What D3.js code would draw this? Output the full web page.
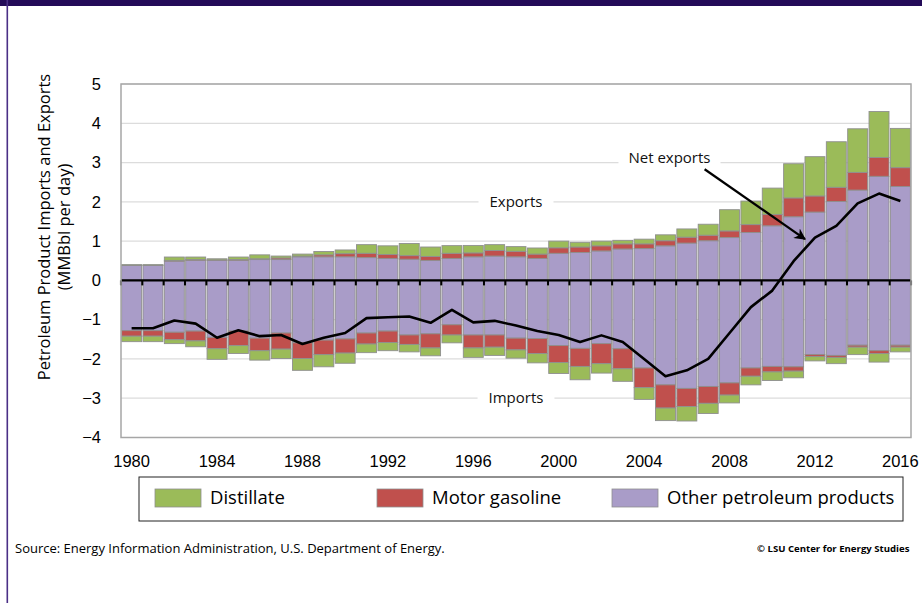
<!DOCTYPE html>
<html>
<head>
<meta charset="utf-8">
<script src="https://cdn.jsdelivr.net/npm/d3@7"></script>
<style>
  body { margin: 0; background: #fff; }
  svg { display: block; }
</style>
</head>
<body>
<div id="chart"></div>
<script>
// Données (millions de barils par jour)
const years = d3.range(1980, 2017);
const tickYears = [1980, 1984, 1988, 1992, 1996, 2000, 2004, 2008, 2012, 2016];
const yTicks = [-4, -3, -2, -1, 0, 1, 2, 3, 4, 5];

const exportOther = [0.38,0.38,0.49,0.51,0.51,0.51,0.53,0.53,0.60,0.60,0.60,0.58,0.56,0.54,0.51,0.56,0.60,0.62,0.60,0.56,0.69,0.71,0.75,0.80,0.81,0.88,0.95,1.01,1.09,1.22,1.39,1.62,1.74,2.01,2.30,2.65,2.39];
const exportGas   = [0.01,0.01,0.02,0.02,0.01,0.02,0.02,0.04,0.02,0.05,0.08,0.11,0.10,0.09,0.10,0.13,0.10,0.14,0.14,0.11,0.14,0.14,0.13,0.13,0.12,0.13,0.15,0.14,0.17,0.20,0.29,0.48,0.41,0.36,0.45,0.48,0.48];
const exportDist  = [0.01,0.01,0.085,0.065,0.03,0.065,0.10,0.05,0.05,0.085,0.095,0.22,0.22,0.31,0.24,0.195,0.19,0.15,0.12,0.155,0.17,0.12,0.12,0.09,0.12,0.15,0.21,0.28,0.54,0.60,0.67,0.87,1.00,1.16,1.11,1.17,1.00];

const importOther = [-1.28,-1.28,-1.32,-1.29,-1.45,-1.29,-1.47,-1.34,-1.59,-1.52,-1.49,-1.34,-1.29,-1.39,-1.36,-1.13,-1.39,-1.39,-1.47,-1.48,-1.66,-1.73,-1.61,-1.74,-2.23,-2.66,-2.75,-2.70,-2.61,-2.23,-2.19,-2.20,-1.89,-1.91,-1.65,-1.79,-1.65];
const importGas   = [-0.14,-0.14,-0.19,-0.25,-0.29,-0.37,-0.32,-0.41,-0.40,-0.37,-0.36,-0.28,-0.29,-0.24,-0.36,-0.26,-0.33,-0.31,-0.30,-0.38,-0.43,-0.46,-0.51,-0.51,-0.50,-0.59,-0.46,-0.43,-0.31,-0.21,-0.14,-0.11,-0.05,-0.05,-0.05,-0.07,-0.05];
const importDist  = [-0.14,-0.14,-0.10,-0.15,-0.27,-0.20,-0.24,-0.24,-0.30,-0.31,-0.26,-0.22,-0.21,-0.19,-0.20,-0.20,-0.24,-0.21,-0.21,-0.24,-0.28,-0.34,-0.24,-0.32,-0.30,-0.32,-0.37,-0.26,-0.20,-0.22,-0.22,-0.17,-0.11,-0.16,-0.19,-0.22,-0.12];

const netExports = [-1.22,-1.22,-1.02,-1.10,-1.46,-1.27,-1.42,-1.39,-1.62,-1.46,-1.34,-0.96,-0.94,-0.92,-1.08,-0.75,-1.07,-1.03,-1.15,-1.29,-1.39,-1.57,-1.40,-1.57,-2.00,-2.44,-2.29,-2.00,-1.34,-0.68,-0.26,0.49,1.09,1.39,1.96,2.21,2.02];

const keys = ["dist", "gas", "other"];
const labels = { dist: "Distillate", gas: "Motor gasoline", other: "Other petroleum products" };
const colors = { dist: "#9bbb59", gas: "#c0504d", other: "#a99cc8" };

// Dimensions
const width = 922;
const height = 603;
const plot = { left: 121, right: 911, top: 84, bottom: 437.5 };

const svg = d3.select("#chart")
    .append("svg")
    .attr("width", width)
    .attr("height", height);

// Cadre de la page
svg.append("rect").attr("x", 0).attr("y", 0).attr("width", width).attr("height", 6).attr("fill", "#230b58");
svg.append("rect").attr("x", 6.5).attr("y", 0).attr("width", 1.6).attr("height", height).attr("fill", "#4a2f86");

const x = d3.scaleBand()
    .domain(years)
    .range([plot.left, plot.right])
    .paddingInner(0.065)
    .paddingOuter(0.03);

const y = d3.scaleLinear()
    .domain([-4, 5])
    .range([plot.bottom, plot.top]);

// Grille
svg.append("g")
    .selectAll("line")
    .data(yTicks.filter(d => d !== 0))
    .enter()
    .append("line")
    .attr("x1", plot.left)
    .attr("x2", plot.right)
    .attr("y1", d => y(d))
    .attr("y2", d => y(d))
    .attr("stroke", "#dcdcdc")
    .attr("stroke-width", 1.2);

// Etiquettes sur la grille (fond blanc pour couper la ligne)
const gridLabels = [
    { text: "Exports", year: 1998, value: 2, pad: 11, dx: 0, dy: 0 },
    { text: "Imports", year: 1998, value: -3, pad: 11, dx: 0, dy: 0 },
    { text: "Net exports", year: 2005, value: 3, pad: 10, dx: 4, dy: -5 }
];
gridLabels.forEach(function(d) {
    const g = svg.append("g");
    const t = g.append("text")
        .attr("x", x(d.year) + x.bandwidth() / 2 + d.dx)
        .attr("y", y(d.value) + d.dy)
        .attr("dy", "0.35em")
        .attr("text-anchor", "middle")
        .attr("font-family", "'Open Sans', sans-serif")
        .attr("font-size", 15)
        .attr("fill", "#111")
        .text(d.text);
    const b = t.node().getBBox();
    g.insert("rect", "text")
        .attr("x", b.x - d.pad)
        .attr("y", b.y)
        .attr("width", b.width + 2 * d.pad)
        .attr("height", b.height)
        .attr("fill", "#fff");
});

// Empilement des barres
const exportRows = years.map((yr, i) => ({ year: yr, other: exportOther[i], gas: exportGas[i], dist: exportDist[i] }));
const importRows = years.map((yr, i) => ({ year: yr, other: importOther[i], gas: importGas[i], dist: importDist[i] }));

const stack = d3.stack()
    .keys(["other", "gas", "dist"])
    .offset(d3.stackOffsetDiverging);

[stack(exportRows), stack(importRows)].forEach(function(series) {
    svg.append("g")
        .selectAll("g")
        .data(series)
        .enter()
        .append("g")
        .attr("fill", d => colors[d.key])
        .selectAll("rect")
        .data(d => d)
        .enter()
        .append("rect")
        .attr("x", d => x(d.data.year))
        .attr("width", x.bandwidth())
        .attr("y", d => y(Math.max(d[0], d[1])))
        .attr("height", d => Math.abs(y(d[0]) - y(d[1])))
        .attr("stroke", "#8f8f8f")
        .attr("stroke-width", 0.9);
});

// Ligne zéro avec graduations
const step = x.step();
svg.append("line")
    .attr("x1", plot.left)
    .attr("x2", plot.right)
    .attr("y1", y(0))
    .attr("y2", y(0))
    .attr("stroke", "#000")
    .attr("stroke-width", 2.2);

svg.append("g")
    .selectAll("line")
    .data(d3.range(years.length + 1))
    .enter()
    .append("line")
    .attr("x1", k => x(years[0]) - x.paddingInner() * step / 2 + k * step)
    .attr("x2", k => x(years[0]) - x.paddingInner() * step / 2 + k * step)
    .attr("y1", y(0))
    .attr("y2", y(0) + 5)
    .attr("stroke", "#000")
    .attr("stroke-width", 2);

// Cadre du graphique
svg.append("rect")
    .attr("x", plot.left)
    .attr("y", plot.top)
    .attr("width", plot.right - plot.left)
    .attr("height", plot.bottom - plot.top)
    .attr("fill", "none")
    .attr("stroke", "#a6a6a6")
    .attr("stroke-width", 1.5);

// Exportations nettes
const line = d3.line()
    .x((d, i) => x(years[i]) + x.bandwidth() / 2)
    .y(d => y(d));

svg.append("path")
    .datum(netExports)
    .attr("d", line)
    .attr("fill", "none")
    .attr("stroke", "#000")
    .attr("stroke-width", 2.6)
    .attr("stroke-linejoin", "round");

// Flèche "Net exports"
svg.append("defs").append("marker")
    .attr("id", "arrow")
    .attr("viewBox", "0 0 10 10")
    .attr("refX", 9)
    .attr("refY", 5)
    .attr("markerWidth", 5)
    .attr("markerHeight", 5)
    .attr("orient", "auto")
    .append("path")
    .attr("d", "M0,0 L10,5 L0,10 L3,5 Z")
    .attr("fill", "#000");

const arrowFrom = { year: 2007, value: 2.83, off: 0.3 };
const arrowTo = { year: 2011, value: 1.05, off: 1.0 };
svg.append("line")
    .attr("x1", x(arrowFrom.year) + arrowFrom.off * step)
    .attr("y1", y(arrowFrom.value))
    .attr("x2", x(arrowTo.year) + arrowTo.off * step)
    .attr("y2", y(arrowTo.value))
    .attr("stroke", "#000")
    .attr("stroke-width", 2.3)
    .attr("marker-end", "url(#arrow)");

// Axes
const yAxis = d3.axisLeft(y).tickValues(yTicks).tickSize(0).tickPadding(20);
svg.append("g")
    .attr("transform", `translate(${plot.left},0)`)
    .call(yAxis)
    .call(g => g.select(".domain").remove())
    .selectAll("text")
    .attr("font-family", "'Liberation Sans', Arial, sans-serif")
    .attr("font-size", 16.5)
    .attr("fill", "#000");

const xAxis = d3.axisBottom(x).tickValues(tickYears).tickSize(0).tickPadding(18);
svg.append("g")
    .attr("transform", `translate(0,${plot.bottom})`)
    .call(xAxis)
    .call(g => g.select(".domain").remove())
    .selectAll("text")
    .attr("font-family", "'Liberation Sans', Arial, sans-serif")
    .attr("font-size", 16.5)
    .attr("fill", "#000");

// Titre de l'axe Y
const yTitle = svg.append("text")
    .attr("transform", "translate(50,227) rotate(-90)")
    .attr("text-anchor", "middle")
    .attr("font-family", "'Open Sans', sans-serif")
    .attr("font-size", 16.5)
    .attr("fill", "#000");
yTitle.append("tspan").attr("x", 0).attr("dy", 0).text("Petroleum Product Imports and Exports");
yTitle.append("tspan").attr("x", 0).attr("dy", 20).text("(MMBbl per day)");

// Légende
svg.append("rect")
    .attr("x", 139)
    .attr("y", 477)
    .attr("width", 764)
    .attr("height", 44)
    .attr("fill", "#fff")
    .attr("stroke", "#222")
    .attr("stroke-width", 1);

const legendX = { dist: 155, gas: 377, other: 612 };
const legend = svg.append("g")
    .selectAll("g")
    .data(keys)
    .enter()
    .append("g")
    .attr("transform", d => `translate(${legendX[d]},489)`);
legend.append("rect")
    .attr("width", 46)
    .attr("height", 18)
    .attr("fill", d => colors[d])
    .attr("stroke", "#8f8f8f")
    .attr("stroke-width", 0.8);
legend.append("text")
    .attr("x", 55)
    .attr("y", 9)
    .attr("dy", "0.35em")
    .attr("font-family", "'Open Sans', sans-serif")
    .attr("font-size", 18.5)
    .attr("fill", "#000")
    .text(d => labels[d]);

// Source
svg.append("text")
    .attr("x", 15)
    .attr("y", 553)
    .attr("font-family", "'Open Sans', sans-serif")
    .attr("font-size", 13)
    .attr("fill", "#000")
    .text("Source:  Energy Information Administration, U.S. Department of Energy.");

svg.append("text")
    .attr("x", 757)
    .attr("y", 552)
    .attr("font-family", "'Open Sans', sans-serif")
    .attr("font-size", 9.6)
    .attr("font-weight", "bold")
    .attr("fill", "#000")
    .text("© LSU Center for Energy Studies");
</script>
</body>
</html>
